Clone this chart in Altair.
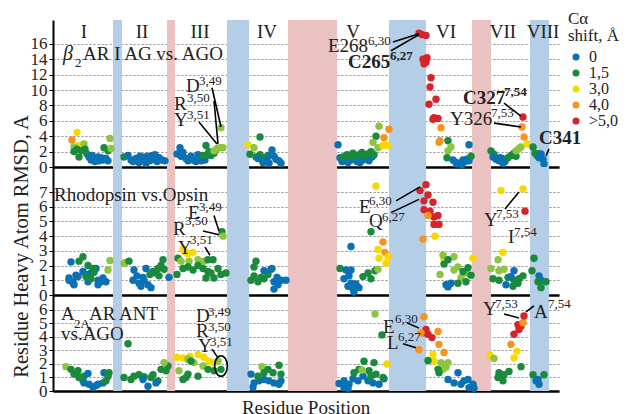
import altair as alt
import pandas as pd

FONT = "Liberation Serif"
X_MAX = 506

SHIFT_CLASSES = ["0", "1,5", "2,0", "3,0", "4,0", ">5,0"]
SHIFT_COLORS = ["#0a72b4", "#1a8a3c", "#8cc63f", "#f5d900", "#f7931e", "#d9232a"]
LEGEND_VALUES = ["0", "1,5", "3,0", "4,0", ">5,0"]

# background bands (residue position ranges)
HELIX_START = [60, 174, 336, 477]
HELIX_END = [69, 196, 373, 496]
LOOP_START = [114, 235, 419]
LOOP_END = [122, 284, 438]

TM_LABELS = ["I", "II", "III", "IV", "V", "VI", "VII", "VIII"]
TM_POS = [31, 89, 147, 214, 300, 393, 450, 490]

B, G, L, Y, O, R = SHIFT_CLASSES

# ---------- panel 1: beta2AR AG vs AGO ----------
P1 = [
    (24, 4.5, Y), (19, 3.5, O), (26, 2.8, Y), (31, 3.0, L), (21, 2.6, L), (21, 2.0, G), (32, 2.3, G),
    (34, 1.7, G), (26, 1.3, G), (29, 2.1, G), (24, 2.3, G),
    (36, 1.3, B), (38, 0.9, B), (40, 1.1, B), (42, 0.7, B), (44, 1.0, B), (46, 0.8, B), (48, 1.2, B),
    (50, 0.9, B), (53, 1.1, B), (55, 0.8, B), (45, 1.3, B), (39, 1.5, B),
    (51, 2.5, G), (55, 2.1, G), (57, 3.7, L), (58, 2.4, L),
    (71, 1.3, G), (75, 1.5, B), (78, 0.9, B), (80, 0.7, B), (83, 1.1, B), (86, 0.6, B), (89, 0.9, B),
    (92, 1.3, B), (95, 1.4, B), (97, 0.8, B), (99, 1.0, B), (102, 1.6, B), (104, 0.7, B), (106, 1.2, B),
    (109, 0.9, B), (112, 0.8, B), (87, 1.4, B), (100, 1.5, B), (93, 0.5, B),
    (127, 2.5, B), (124, 1.7, B), (128, 1.4, B), (130, 1.9, B), (133, 1.1, B), (135, 0.8, B), (138, 1.4, B),
    (140, 0.9, B), (143, 0.7, B), (146, 1.1, B), (148, 0.8, B), (150, 1.3, B), (145, 1.6, B), (152, 0.9, B),
    (153, 2.8, G), (150, 1.5, G), (155, 1.7, G), (158, 1.5, G), (161, 1.8, G), (156, 2.0, G),
    (161, 2.1, L), (164, 2.4, L), (167, 2.5, L), (170, 2.5, L), (168, 5.1, L),
    (195, 2.9, Y), (201, 2.5, L), (207, 3.9, G), (197, 1.65, G), (203, 1.3, G), (207, 1.6, G), (211, 1.2, G),
    (215, 1.5, G), (205, 1.1, B), (210, 0.6, B), (214, 0.9, B), (216, 0.5, B), (219, 2.2, B), (221, 1.4, B),
    (223, 1.0, B), (226, 0.8, B), (228, 0.5, B), (218, 1.6, B),
    (285, 2.9, B), (287, 1.2, B), (289, 0.7, B), (292, 1.0, B), (295, 0.6, B), (298, 0.9, B), (301, 1.1, B),
    (304, 0.7, B), (307, 0.6, B), (310, 0.9, B), (313, 1.1, B), (316, 0.8, B), (319, 1.3, B),
    (290, 1.3, G), (294, 1.6, G), (297, 1.4, G), (300, 1.8, G), (303, 1.3, G), (306, 1.6, G), (309, 1.9, G),
    (312, 1.5, G), (315, 1.7, G), (318, 2.0, G), (321, 1.6, G),
    (323, 4.0, G), (326, 5.3, L), (320, 3.2, L), (325, 2.5, L), (331, 3.8, O), (336, 4.9, O), (330, 2.8, Y),
    (335, 2.8, Y),
    (366, 17.4, R), (369, 17.2, R), (373, 17.1, R), (370, 14.0, R), (374, 14.2, R), (371, 13.4, R),
    (373, 13.6, R), (378, 11.6, R), (377, 10.4, R), (383, 8.8, R), (376, 8.15, R), (381, 6.4, R),
    (385, 6.3, R), (380, 6.2, R), (388, 5.1, O), (387, 3.4, O), (386, 3.2, O),
    (395, 3.4, G), (398, 2.6, L), (395, 2.1, L), (394, 1.2, G),
    (400, 0.9, B), (403, 0.6, B), (406, 0.5, B), (409, 0.3, B), (412, 0.7, B), (414, 1.0, B), (416, 0.8, B),
    (404, 0.4, B), (410, 0.9, B), (416, 2.9, B), (418, 1.4, G),
    (438, 2.1, G), (441, 1.65, G), (440, 1.3, B), (443, 1.0, B), (446, 0.8, B), (449, 1.1, B), (452, 0.7, B),
    (450, 0.5, B), (447, 1.2, B), (455, 1.2, G), (458, 1.5, G), (461, 1.8, G), (463, 1.4, G),
    (463, 2.1, L), (466, 2.4, L), (468, 2.6, L), (471, 3.9, O), (469, 5.2, O), (470, 6.5, R), (474, 3.0, Y),
    (480, 2.6, G), (482, 1.8, G), (484, 1.5, G), (486, 1.7, G), (488, 1.7, B), (490, 1.0, B), (491, 0.4, B),
    (486, 1.2, B),
]

# ---------- panel 2: Rhodopsin vs Opsin ----------
P2 = [
    (18, 2.25, B), (30, 2.6, G), (26, 2.3, G), (35, 2.0, G),
    (16, 1.15, B), (20, 0.9, B), (25, 1.25, B), (30, 1.6, B), (33, 1.4, B), (38, 1.5, B), (43, 1.8, B),
    (45, 1.0, B), (48, 0.9, B), (53, 0.9, B), (45, 0.7, B), (16, 1.0, B), (20, 0.8, B), (23, 1.35, B),
    (21, 0.7, B), (35, 0.9, B), (50, 1.15, B),
    (33, 1.25, G), (38, 1.1, G), (41, 1.55, G), (40, 1.8, G), (55, 1.7, L), (57, 2.35, L),
    (72, 2.2, L), (71, 2.15, L), (76, 2.3, G),
    (81, 1.7, B), (80, 1.0, B), (86, 0.8, B), (90, 1.2, B), (91, 1.0, B), (95, 0.7, B), (98, 0.5, B),
    (93, 1.8, B), (84, 1.3, B), (88, 0.6, B), (116, 1.2, B),
    (100, 1.6, G), (105, 1.8, G), (108, 2.0, G), (110, 2.4, G), (111, 1.75, G), (103, 1.5, G), (97, 1.4, G),
    (106, 1.3, G),
    (124, 1.4, G), (125, 2.5, G), (128, 2.3, L), (136, 2.3, L), (145, 2.4, L), (151, 2.3, L),
    (130, 3.1, Y), (135, 2.8, Y), (140, 2.9, Y), (132, 2.95, Y),
    (130, 1.8, G), (135, 1.9, G), (140, 1.7, G), (145, 2.0, G), (150, 1.8, G), (155, 1.6, G), (155, 2.4, G),
    (160, 2.4, G), (158, 1.5, G), (165, 1.8, G), (168, 1.4, G), (173, 1.5, G), (161, 1.15, G), (153, 1.15, G),
    (169, 4.3, G), (170, 4.0, L),
    (203, 2.3, G), (201, 1.9, G), (198, 1.0, G), (201, 1.3, G), (205, 0.9, G), (208, 1.2, G), (211, 1.1, G),
    (219, 1.8, G), (215, 1.4, G),
    (211, 1.65, B), (218, 1.75, B), (221, 0.9, B), (225, 0.7, B), (221, 0.4, B), (228, 1.0, B), (233, 1.0, B),
    (224, 1.2, B),
    (287, 1.8, G), (293, 1.7, B), (298, 1.7, B), (291, 1.1, B), (295, 0.6, B), (298, 0.8, B), (301, 0.2, B),
    (306, 0.5, B), (303, 0.75, B), (296, 1.3, B), (300, 0.4, B), (298, 3.3, B),
    (310, 1.25, G), (315, 1.5, G), (318, 1.1, G), (322, 1.65, G),
    (318, 4.3, G), (330, 3.6, O), (332, 2.9, O), (325, 3.1, Y), (326, 2.5, Y), (333, 2.15, Y), (335, 2.6, Y),
    (323, 7.4, Y), (325, 1.75, L),
    (373, 7.5, R), (375, 6.8, R), (380, 6.3, R), (367, 7.1, R), (371, 6.4, R), (377, 5.7, R), (371, 5.8, R),
    (381, 5.3, R), (385, 5.4, R), (386, 4.8, R), (381, 4.8, R), (375, 5.4, O), (370, 3.8, O),
    (382, 4.0, Y), (391, 2.4, Y), (420, 2.5, Y),
    (390, 2.7, L), (387, 1.4, L), (401, 2.6, L), (405, 1.9, L), (408, 1.2, L), (413, 1.5, L), (401, 1.7, L),
    (395, 2.4, G), (391, 2.1, G), (415, 1.85, G), (418, 1.35, G), (413, 0.9, G), (405, 0.8, G), (410, 1.6, G),
    (395, 0.55, B), (398, 0.8, B), (393, 0.7, B),
    (448, 7.1, Y), (470, 7.2, Y), (450, 2.9, Y), (472, 5.7, R),
    (445, 2.4, L), (438, 1.8, L), (446, 1.65, L), (451, 1.75, L),
    (440, 1.1, G), (446, 1.0, G), (455, 1.2, G), (461, 1.0, G), (466, 1.1, G), (470, 1.3, G), (465, 0.8, G),
    (460, 0.6, G), (453, 0.7, B), (461, 1.65, B), (458, 1.25, B),
    (481, 2.5, G), (479, 1.65, G), (486, 1.3, B), (488, 1.0, B), (485, 0.9, G), (493, 0.9, G), (488, 0.5, G),
]

# ---------- panel 3: A2A AR ANT vs AGO ----------
P3 = [
    (13, 1.8, L), (18, 1.6, G), (25, 1.5, G), (26, 1.0, G), (21, 1.25, G), (31, 1.1, G), (30, 0.75, G),
    (31, 0.6, B), (36, 0.5, B), (40, 0.3, B), (45, 0.5, B), (50, 0.6, B), (35, 1.3, B), (51, 1.35, B),
    (43, 0.4, B), (55, 1.1, G), (53, 0.75, G), (56, 1.35, G),
    (75, 3.5, G), (71, 1.0, G), (78, 0.85, G), (81, 1.1, G), (86, 1.2, G), (91, 1.05, G), (98, 1.0, G),
    (100, 1.2, G), (105, 0.75, G), (95, 0.35, B), (103, 0.6, B), (90, 0.85, B),
    (108, 1.6, G), (113, 1.5, G), (115, 1.85, G), (111, 2.1, L),
    (124, 2.5, Y), (130, 2.45, Y), (145, 2.7, Y), (151, 2.5, Y), (156, 2.2, Y), (161, 2.1, Y), (137, 2.55, Y),
    (126, 1.5, L), (135, 2.35, L), (141, 2.1, L), (150, 1.85, L), (165, 2.2, L),
    (130, 0.85, G), (135, 1.25, G), (138, 2.2, G), (145, 1.1, G), (155, 1.6, G), (161, 1.5, G), (168, 1.6, G),
    (133, 1.0, G),
    (209, 1.8, L), (198, 1.25, B), (201, 0.6, B), (200, 0.3, B), (206, 0.75, B), (211, 0.85, B), (216, 0.75, B),
    (221, 0.6, B), (226, 0.5, B), (228, 0.75, B),
    (205, 1.1, G), (215, 1.6, G), (220, 1.35, G), (226, 1.9, G), (228, 1.25, G), (211, 1.35, G),
    (286, 0.55, B), (291, 0.75, B), (291, 0.25, B), (296, 0.5, B), (300, 0.9, B), (305, 0.75, B), (310, 1.1, B),
    (315, 0.75, B), (320, 0.6, B), (326, 0.5, B), (331, 0.9, B), (295, 0.2, B),
    (301, 1.35, G), (306, 1.6, G), (311, 2.2, G), (316, 1.5, G), (321, 2.1, G), (323, 1.25, G), (330, 1.0, G),
    (318, 1.1, G), (309, 1.55, L), (322, 5.7, L), (329, 4.15, G), (334, 2.0, Y),
    (371, 5.5, O), (373, 4.55, R), (375, 4.2, R), (371, 4.3, R), (379, 3.95, R),
    (368, 4.3, O), (385, 4.4, O), (386, 3.45, O), (366, 3.05, O), (391, 2.85, O),
    (380, 2.7, Y), (381, 2.2, Y), (375, 2.25, G),
    (388, 2.1, L), (395, 2.1, L), (393, 1.75, L), (390, 1.6, L), (385, 1.6, G), (386, 1.35, G),
    (395, 0.85, B), (401, 0.6, B), (405, 1.35, B), (408, 0.5, B), (411, 0.75, B), (416, 0.25, B), (420, 0.5, B),
    (415, 0.85, B), (421, 0.2, B),
    (437, 2.65, Y), (441, 2.4, L), (446, 1.35, G), (445, 1.0, G), (450, 0.75, G), (456, 1.45, G), (451, 1.2, G),
    (468, 1.8, G), (461, 2.45, Y), (464, 2.95, Y), (458, 3.45, O),
    (461, 4.2, R), (466, 4.55, R), (468, 4.8, R), (465, 4.9, R), (470, 5.05, O), (471, 5.55, R),
    (480, 1.2, G), (491, 1.2, G), (483, 0.75, B), (486, 0.5, B), (485, 0.85, B),
]

# annotations: (x, y, text, kind)  kinds: n normal, s superscript, b bold, bs bold superscript, i italic, sub subscript
N1 = [
    (10, 14.7, "β", "i"), (22, 13.5, "2", "sub"), (30, 14.7, "AR I AG vs. AGO", "n"),
    (133, 10.5, "D", "n"), (146, 11.2, "3,49", "s"),
    (121, 8.2, "R", "n"), (134, 9.0, "3,50", "s"),
    (121, 6.1, "Y", "n"), (134, 6.7, "3,51", "s"),
    (275, 15.7, "E268", "n"), (315, 16.4, "6,30", "s"),
    (295, 13.65, "C265", "b"), (337, 14.4, "6,27", "bs"),
    (410, 9.0, "C327", "b"), (451, 9.75, "7,54", "bs"),
    (397, 6.25, "Y326", "n"), (438, 7.0, "7,53", "s"),
    (486, 3.8, "C341", "b"),
]
LINES1 = [
    (159, 10.3, 168, 5.2), (161, 8.6, 165, 3.0), (146, 5.85, 164, 3.0),
    (340, 16.25, 366, 17.3), (338, 15.1, 366, 17.2),
    (451, 8.3, 468, 6.6), (441, 5.7, 468, 5.2), (496, 2.35, 493, 1.45),
]
N2 = [
    (1, 6.8, "Rhodopsin vs.Opsin", "n"),
    (135, 5.6, "E", "n"), (146, 6.0, "3,49", "s"),
    (120, 4.5, "R", "n"), (132, 5.0, "3,50", "s"),
    (125, 3.2, "Y", "n"), (137, 3.75, "3,51", "s"),
    (306, 6.0, "E", "n"), (316, 6.4, "6,30", "s"),
    (316, 5.0, "Q", "n"), (329, 5.3, "6,27", "s"),
    (431, 5.1, "Y", "n"), (443, 5.5, "7,53", "s"),
    (455, 3.95, "I", "n"), (461, 4.3, "7,54", "s"),
]
LINES2 = [
    (161, 5.4, 166, 4.35), (150, 4.35, 166, 4.1), (152, 3.25, 157, 2.7),
    (343, 6.4, 367, 7.35), (338, 5.6, 366, 6.5), (452, 5.85, 466, 7.0),
]
N3 = [
    (8, 5.7, "A", "n"), (21, 4.95, "2A", "sub"), (36, 5.7, "AR ANT", "n"),
    (8, 4.2, "vs.AGO", "n"),
    (143, 5.55, "D", "n"), (155, 5.85, "3,49", "s"),
    (143, 4.45, "R", "n"), (155, 4.75, "3,50", "s"),
    (145, 3.35, "Y", "n"), (157, 3.65, "3,51", "s"),
    (330, 4.75, "E", "n"), (342, 5.3, "6,30", "s"),
    (334, 3.55, "L", "n"), (345, 4.0, "6,27", "s"),
    (430, 6.05, "Y", "n"), (442, 6.45, "7,53", "s"),
    (481, 5.85, "A", "n"), (495, 6.45, "7,54", "s"),
]
LINES3 = [
    (159, 3.1, 165, 2.45), (354, 5.05, 366, 4.65), (350, 3.5, 363, 3.2),
    (451, 5.7, 466, 5.4), (473, 5.85, 481, 6.3),
]
CIRCLE3 = [(168, 1.85)]

TEXT_STYLE = {
    "n": dict(fontSize=19, fontWeight="normal", fontStyle="normal"),
    "s": dict(fontSize=13, fontWeight="normal", fontStyle="normal"),
    "b": dict(fontSize=19, fontWeight="bold", fontStyle="normal"),
    "bs": dict(fontSize=13, fontWeight="bold", fontStyle="normal"),
    "i": dict(fontSize=20, fontWeight="normal", fontStyle="italic"),
    "sub": dict(fontSize=13, fontWeight="normal", fontStyle="normal"),
}


def build_panel(points, ymax, height, ticks, notes, leaders, legend, ytitle=None, extra=None):
    xscale = alt.Scale(domain=[0, X_MAX], nice=False, zero=False)
    yscale = alt.Scale(domain=[0, ymax], nice=False, zero=False)
    xaxis = alt.Axis(labels=False, ticks=False, grid=False, domainColor="black", domainWidth=2.5,
                     title=None)
    yk = dict(values=ticks, grid=True, gridColor="#8c8c8c", gridDash=[2, 2], gridWidth=1,
              domainColor="black", domainWidth=2, tickColor="black", tickSize=4,
              labelFont=FONT, labelFontSize=17, labelColor="#222222", labelPadding=2,
              labelOverlap=False, labelFlush=False, title=ytitle)
    if ytitle:
        yk.update(titleFont=FONT, titleFontSize=20.5, titleFontWeight="normal", titleColor="#222222",
                  titleX=-22, titleY=79)
    yaxis = alt.Axis(**yk)

    def X(f):
        return alt.X(f, type="quantitative", scale=xscale, axis=xaxis)

    def Yc(f):
        return alt.Y(f, type="quantitative", scale=yscale, axis=yaxis)

    layers = []
    helix = pd.DataFrame({"x0": HELIX_START, "x1": HELIX_END})
    loop = pd.DataFrame({"x0": LOOP_START, "x1": LOOP_END})
    for df, col in ((helix, "#b3cee6"), (loop, "#eac2c2")):
        layers.append(alt.Chart(df).mark_rect(color=col).encode(
            x=X("x0"), x2="x1", y=alt.value(0), y2=alt.value(height)))

    pts = pd.DataFrame(points, columns=["pos", "rmsd", "shift"])
    layers.append(alt.Chart(pts).mark_circle(size=55, opacity=1).encode(
        x=X("pos"), y=Yc("rmsd"),
        color=alt.Color("shift:N", scale=alt.Scale(domain=SHIFT_CLASSES, range=SHIFT_COLORS),
                        legend=legend)))

    ln = pd.DataFrame(leaders, columns=["x1", "y1", "x2", "y2"])
    layers.append(alt.Chart(ln).mark_rule(color="black", strokeWidth=1.6).encode(
        x=X("x1"), y=Yc("y1"), x2="x2", y2="y2"))

    nt = pd.DataFrame(notes, columns=["x", "y", "t", "k"])
    for k, st in TEXT_STYLE.items():
        sub = nt[nt["k"] == k]
        if len(sub) == 0:
            continue
        layers.append(alt.Chart(sub).mark_text(align="left", baseline="middle", font=FONT,
                                               color="#222222", **st).encode(
            x=X("x"), y=Yc("y"), text="t:N"))

    if extra is not None:
        for e in extra:
            layers.append(e(X, Yc))

    return alt.layer(*layers).properties(width=X_MAX, height=height)


def tm_labels(X, Yc):
    df = pd.DataFrame({"x": TM_POS, "y": [17.6] * len(TM_POS), "t": TM_LABELS})
    return alt.Chart(df).mark_text(align="center", baseline="middle", font=FONT, fontSize=19,
                                   color="#222222").encode(x=X("x"), y=Yc("y"), text="t:N")


def circle_mark(X, Yc):
    df = pd.DataFrame(CIRCLE3, columns=["x", "y"])
    path = "M -0.62 0 A 0.62 1 0 1 0 0.62 0 A 0.62 1 0 1 0 -0.62 0 Z"
    return alt.Chart(df).mark_point(shape=path, size=420, filled=False, color="black",
                                    strokeWidth=1.6, opacity=1).encode(x=X("x"), y=Yc("y"))


legend = alt.Legend(title=["Cα", "shift, Å"], values=LEGEND_VALUES, orient="none", legendX=515,
                    legendY=-9, titleFont=FONT, titleFontSize=17, titleFontWeight="normal",
                    titleColor="#222222", titleLineHeight=17, titlePadding=4, labelFont=FONT,
                    labelFontSize=16, labelColor="#222222", symbolType="circle", symbolSize=50,
                    symbolStrokeWidth=0, rowPadding=-2.6, labelOffset=5, padding=0)

p1 = build_panel(P1, 19.1, 147, list(range(0, 17, 2)), N1, LINES1, legend, extra=[tm_labels])
p2 = build_panel(P2, 8.7, 128, list(range(0, 8)), N2, LINES2, None,
                 ytitle="Residue Heavy Atom RMSD, A")
p3 = build_panel(P3, 7.1, 96, list(range(0, 7)), N3, LINES3, None,
                 extra=[circle_mark]).properties(
    title=alt.TitleParams("Residue Position", orient="bottom", anchor="middle", frame="group",
                          font=FONT, fontSize=19, fontWeight="normal", color="#222222", offset=0))

chart = alt.vconcat(p1, p2, p3, spacing=0, bounds="flush").resolve_scale(
    color="independent").resolve_legend(color="independent").properties(
    padding={"left": 2, "top": 3, "right": 0, "bottom": 0}).configure_view(
    stroke=None).configure_axis(titleFontWeight="normal")

chart.save("out.html", embed_options={"renderer": "svg", "actions": False})
